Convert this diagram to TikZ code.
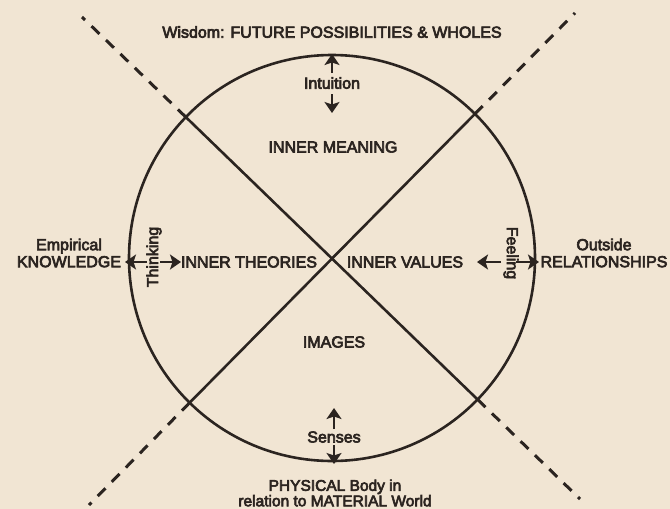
\documentclass[tikz,border=0pt]{standalone}
\usepackage{fontspec}
\setmainfont{Liberation Sans}
\newfontfamily\inkfont{Liberation Sans}[FakeBold=4]
\usetikzlibrary{arrows.meta,calc}
\definecolor{paper}{HTML}{F1E5D3}
\definecolor{ink}{HTML}{2B2420}
\begin{document}
\begin{tikzpicture}[x=1pt,y=-1pt,
  lbl/.style={font=\inkfont\fontsize{16}{17}\selectfont, text=ink, inner sep=0pt},
  twoline/.style={lbl, align=center},
  arr/.style={draw=ink, line width=2.8pt, -{Stealth[length=11pt,width=15pt,inset=2.5pt]}},
  solidline/.style={draw=ink, line width=2.6pt},
  dashline/.style={draw=ink, line width=3pt, dash pattern=on 11pt off 9pt},
]
\fill[paper] (0,0) rectangle (670,509);
\useasboundingbox (0,0) rectangle (670,509);
% circle
\coordinate (c) at (332,258);
\node[circle, draw=ink, line width=2.6pt, minimum size=406pt, inner sep=0pt] (ring) at (c) {};
% crossing lines
\coordinate (a1) at (82,17);
\coordinate (a2) at (580,499);
\coordinate (b1) at (575,13);
\coordinate (b2) at (89,505);
\coordinate (ia1) at ($(c)!203pt!(a1)$);
\coordinate (ia2) at ($(c)!203pt!(a2)$);
\coordinate (ib1) at ($(c)!203pt!(b1)$);
\coordinate (ib2) at ($(c)!203pt!(b2)$);
\draw[solidline] (ia1) -- (ia2);
\draw[solidline] (ib1) -- (ib2);
\draw[dashline] (ia1) -- (a1);
\draw[dashline] (ia2) -- (a2);
\draw[dashline] (ib1) -- (b1);
\draw[dashline] (ib2) -- (b2);
% labels
\node[lbl] (wisdom) at (332,32) {Wisdom: FUTURE POSSIBILITIES \& WHOLES};
\node[lbl] (intu) at (332,83) {Intuition};
\node[lbl] (meaning) at (333,147) {INNER MEANING};
\node[twoline] (empir) at (69,253) {Empirical\\KNOWLEDGE};
\node[lbl, rotate=90] (think) at (154,257) {Thinking};
\node[lbl] (theories) at (249,262) {INNER THEORIES};
\node[lbl] (values) at (405,262) {INNER VALUES};
\node[lbl, rotate=-90] (feel) at (511,253) {Feeling};
\node[twoline] (outside) at (604,253) {Outside\\RELATIONSHIPS};
\node[lbl] (images) at (334,342) {IMAGES};
\node[lbl] (senses) at (334,437) {Senses};
\node[lbl, align=center, font=\inkfont\fontsize{15.5}{12.5}\selectfont] (phys) at (335,493) {PHYSICAL Body in\\relation to MATERIAL World};
% arrows
\coordinate (iuS) at (332,73);  \coordinate (iuT) at (332,54);
\coordinate (idS) at (332,94);  \coordinate (idT) at (332,113);
\coordinate (tlS) at (147,262); \coordinate (tlT) at (125,262);
\coordinate (trS) at (160,262); \coordinate (trT) at (181,262);
\coordinate (flS) at (501,262); \coordinate (flT) at (477,262);
\coordinate (frS) at (516,262); \coordinate (frT) at (539,262);
\coordinate (suS) at (334,429); \coordinate (suT) at (334,408);
\coordinate (sdS) at (334,445); \coordinate (sdT) at (334,464);
\draw[arr] (iuS) -- (iuT);
\draw[arr] (idS) -- (idT);
\draw[arr] (tlS) -- (tlT);
\draw[arr] (trS) -- (trT);
\draw[arr] (flS) -- (flT);
\draw[arr] (frS) -- (frT);
\draw[arr] (suS) -- (suT);
\draw[arr] (sdS) -- (sdT);
\end{tikzpicture}
\end{document}
